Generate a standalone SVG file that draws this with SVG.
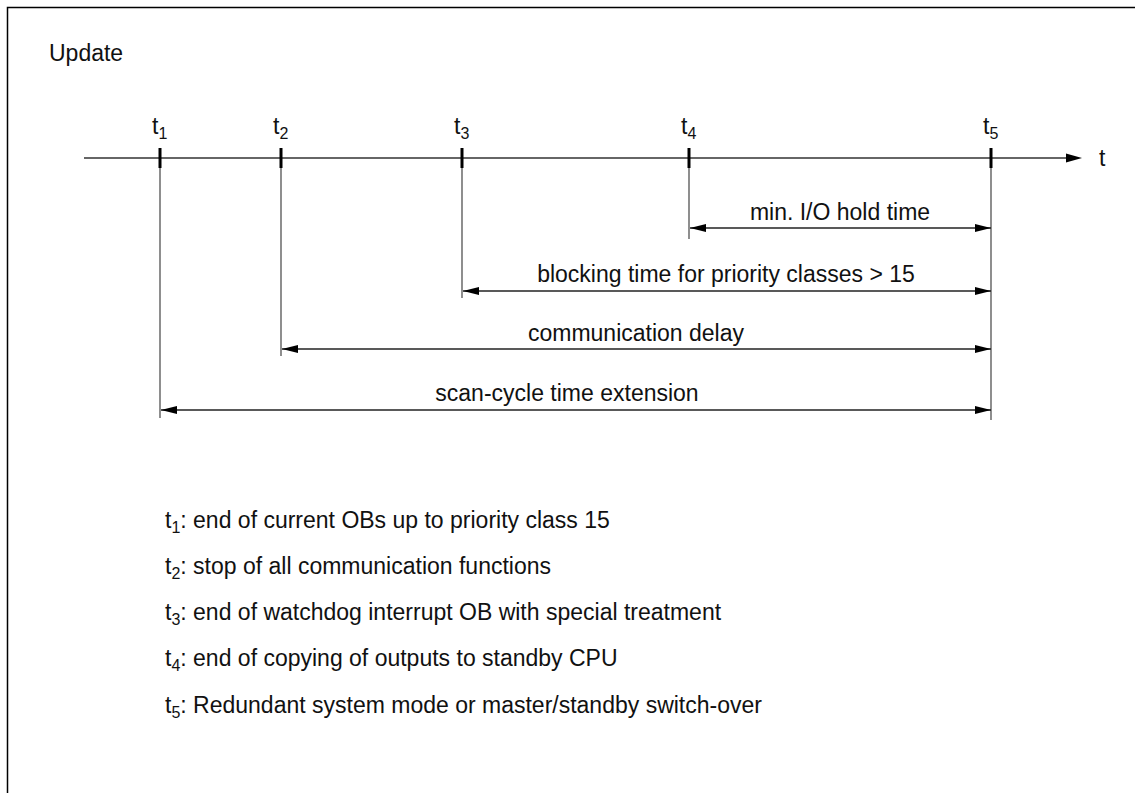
<svg xmlns="http://www.w3.org/2000/svg" width="1135" height="793" viewBox="0 0 1135 793">
<style>
text{font-family:"Liberation Sans",Arial,sans-serif;font-size:23px;fill:#111}
.ax{stroke:#333;stroke-width:1.5;fill:none}
.tk{stroke:#000;stroke-width:3}
.vl{stroke:#444;stroke-width:1.2}
.dim{stroke:#222;stroke-width:1.3;marker-start:url(#ah);marker-end:url(#ah)}
.sub{font-size:16px}
</style>
<defs>
<marker id="ah" viewBox="0 0 16 8" refX="16" refY="4" markerWidth="16" markerHeight="8" markerUnits="userSpaceOnUse" orient="auto-start-reverse">
<path d="M0,0 L16,4 L0,8 Z" fill="#000"/>
</marker>
</defs>
<rect x="0" y="0" width="1135" height="793" fill="#fff"/>
<path d="M7.5,793 V7.5 H1135" stroke="#000" stroke-width="1.5" fill="none"/>
<text id="title" x="49" y="61">Update</text>
<g id="axis">
<line class="ax" x1="84" y1="158" x2="1067" y2="158"/>
<path d="M1066,153.5 L1082,158 L1066,162.5 Z" fill="#000"/>
<text x="1099" y="166">t</text>
</g>
<g id="ticks">
<line class="tk" x1="160" y1="148" x2="160" y2="168"/>
<line class="tk" x1="281" y1="148" x2="281" y2="168"/>
<line class="tk" x1="462" y1="148" x2="462" y2="168"/>
<line class="tk" x1="689" y1="148" x2="689" y2="168"/>
<line class="tk" x1="991" y1="148" x2="991" y2="168"/>
<line class="vl" x1="160" y1="168" x2="160" y2="418"/>
<line class="vl" x1="281" y1="168" x2="281" y2="356"/>
<line class="vl" x1="462" y1="168" x2="462" y2="298"/>
<line class="vl" x1="689" y1="168" x2="689" y2="239"/>
<line class="vl" x1="991" y1="168" x2="991" y2="420"/>
<text x="152" y="134">t<tspan class="sub" dy="5">1</tspan></text>
<text x="273" y="134">t<tspan class="sub" dy="5">2</tspan></text>
<text x="454" y="134">t<tspan class="sub" dy="5">3</tspan></text>
<text x="681" y="134">t<tspan class="sub" dy="5">4</tspan></text>
<text x="983" y="134">t<tspan class="sub" dy="5">5</tspan></text>
</g>
<g id="connectors">
<line class="dim" x1="690" y1="228" x2="991" y2="228"/>
<line class="dim" x1="463" y1="291" x2="991" y2="291"/>
<line class="dim" x1="282" y1="349" x2="991" y2="349"/>
<line class="dim" x1="161" y1="410" x2="991" y2="410"/>
</g>
<g id="labels">
<text x="840" y="220" text-anchor="middle">min. I/O hold time</text>
<text x="726" y="282" text-anchor="middle">blocking time for priority classes &gt; 15</text>
<text x="636" y="341" text-anchor="middle">communication delay</text>
<text x="567" y="401" text-anchor="middle">scan-cycle time extension</text>
</g>
<g id="legend">
<text x="165" y="528">t<tspan class="sub" dy="5">1</tspan><tspan dy="-5">: end of current OBs up to priority class 15</tspan></text>
<text x="165" y="574">t<tspan class="sub" dy="5">2</tspan><tspan dy="-5">: stop of all communication functions</tspan></text>
<text x="165" y="620">t<tspan class="sub" dy="5">3</tspan><tspan dy="-5">: end of watchdog interrupt OB with special treatment</tspan></text>
<text x="165" y="666">t<tspan class="sub" dy="5">4</tspan><tspan dy="-5">: end of copying of outputs to standby CPU</tspan></text>
<text x="165" y="713">t<tspan class="sub" dy="5">5</tspan><tspan dy="-5">: Redundant system mode or master/standby switch-over</tspan></text>
</g>
</svg>
